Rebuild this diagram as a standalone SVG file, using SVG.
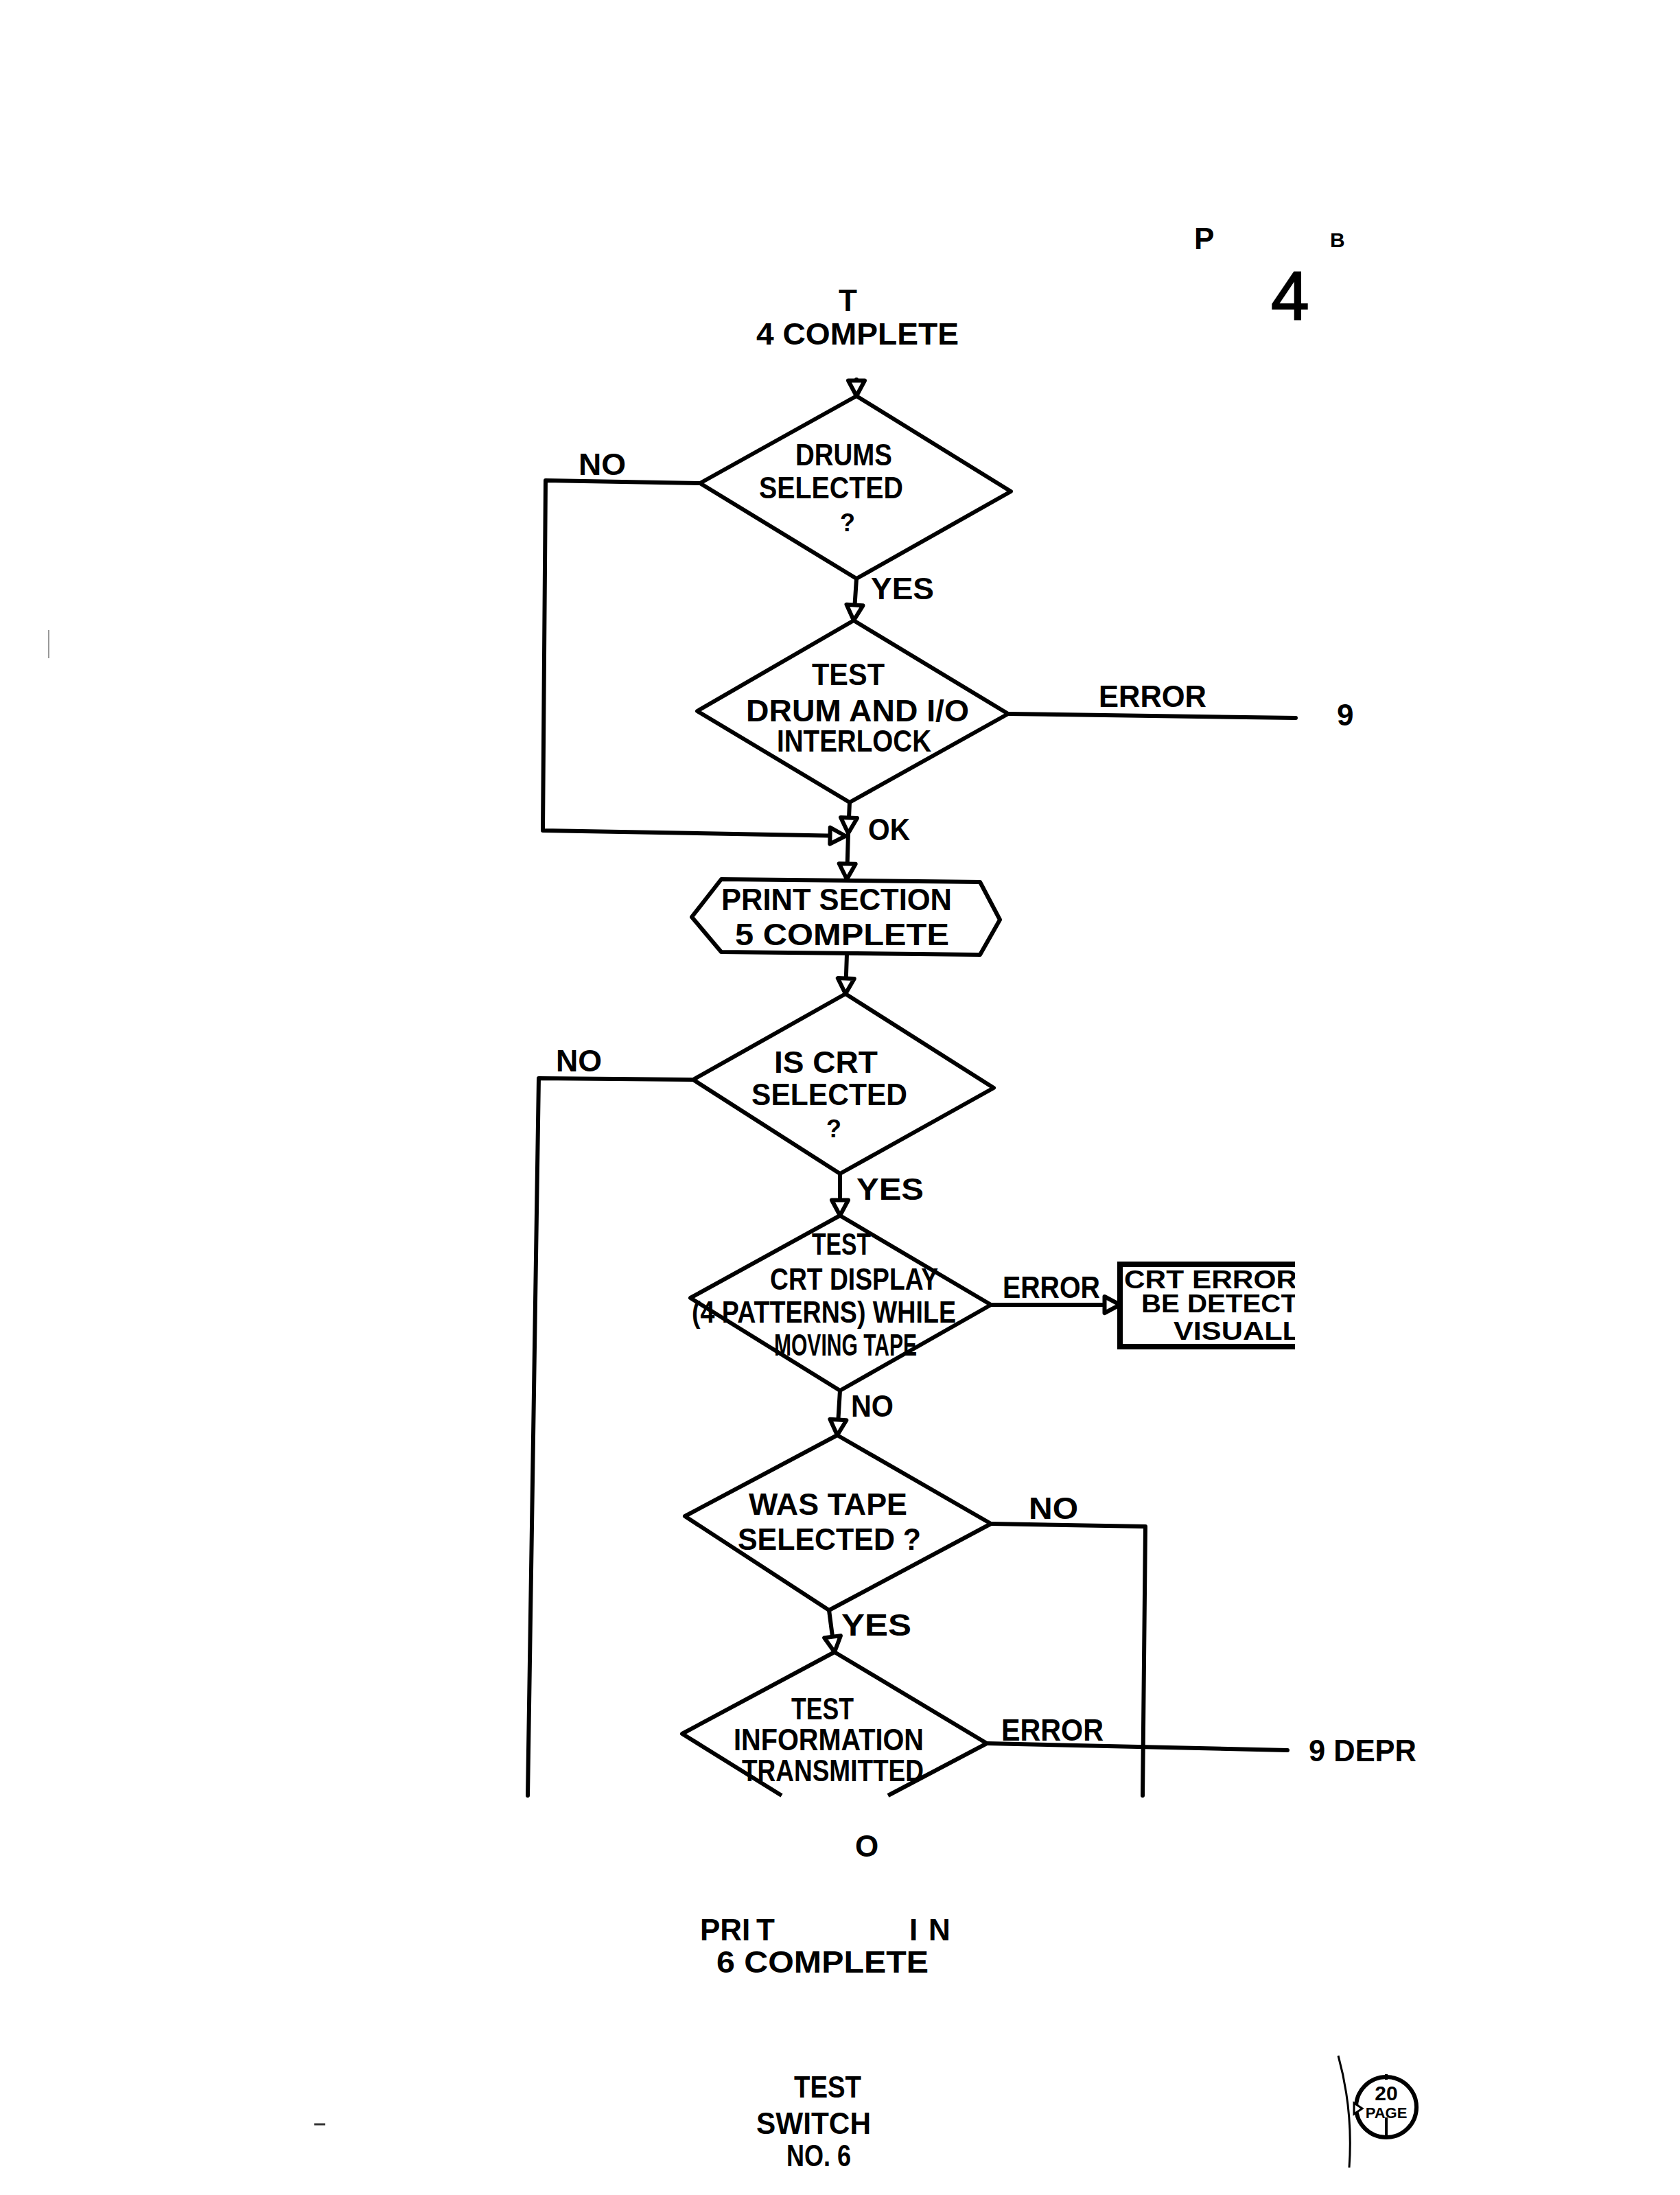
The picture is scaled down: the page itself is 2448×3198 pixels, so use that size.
<svg xmlns="http://www.w3.org/2000/svg" width="2448" height="3198" viewBox="0 0 2448 3198">
<style>
.sh{fill:none;stroke:#000;stroke-width:6;stroke-linejoin:round}
.ln{fill:none;stroke:#000;stroke-width:6;stroke-linejoin:round;stroke-linecap:round}
.t{font-family:"Liberation Sans",Arial,sans-serif;font-weight:bold;font-size:44px;fill:#000}
.s{font-size:36px}
.q{font-size:36px}
.hw{font-family:"Liberation Sans",Arial,sans-serif;fill:#000}
</style>
<defs>
<marker id="ah" markerUnits="userSpaceOnUse" markerWidth="30" markerHeight="30" viewBox="-16 -10 20 20" refX="0" refY="0" orient="auto" overflow="visible">
<path d="M-15,-8 L0,0 L-15,8 Z" fill="#fff" stroke="#000" stroke-width="4" stroke-linejoin="round"/>
</marker>
<clipPath id="boxclip"><rect x="1630" y="1838" width="257" height="130"/></clipPath>
</defs>
<rect width="2448" height="3198" fill="#fff"/>

<g id="header">
<text class="t" x="1222" y="453">T</text>
<text class="t" x="1102" y="502" textLength="295" lengthAdjust="spacingAndGlyphs">4 COMPLETE</text>
<text class="t" x="1740" y="363">P</text>
<text class="t" x="1938" y="360" style="font-size:30px">B</text>
<text class="hw" x="1852" y="466" style="font-size:100px;stroke:#000;stroke-width:2">4</text>
</g>

<g id="connectors">
<path class="ln" d="M1248,553 L1248,577" marker-end="url(#ah)"/>
<path class="ln" d="M1020,704 L795,700 L791,1210 L1232,1218" marker-end="url(#ah)"/>
<path class="ln" d="M1248,843 L1244,904" marker-end="url(#ah)"/>
<path class="ln" d="M1469,1040 L1888,1046"/>
<path class="ln" d="M1238,1169 L1236,1214" marker-end="url(#ah)"/>
<path class="ln" d="M1236,1214 L1234,1281" marker-end="url(#ah)"/>
<path class="ln" d="M1234,1390 L1232,1448" marker-end="url(#ah)"/>
<path class="ln" d="M1010,1573 L785,1571 L769,2616"/>
<path class="ln" d="M1224,1710 L1224,1771" marker-end="url(#ah)"/>
<path class="ln" d="M1444,1901 L1632,1901" marker-end="url(#ah)"/>
<path class="ln" d="M1224,2026 L1220,2091" marker-end="url(#ah)"/>
<path class="ln" d="M1444,2220 L1669,2224 L1665,2616"/>
<path class="ln" d="M1208,2346 L1216,2407" marker-end="url(#ah)"/>
<path class="ln" d="M1438,2540 L1876,2550"/>
<text class="t" x="843" y="692" textLength="69" lengthAdjust="spacingAndGlyphs">NO</text>
<text class="t" x="1269" y="873" textLength="92" lengthAdjust="spacingAndGlyphs">YES</text>
<text class="t" x="1601" y="1030" textLength="157" lengthAdjust="spacingAndGlyphs">ERROR</text>
<text class="t" x="1265" y="1224" textLength="61" lengthAdjust="spacingAndGlyphs">OK</text>
<text class="t" x="810" y="1561" textLength="67" lengthAdjust="spacingAndGlyphs">NO</text>
<text class="t" x="1248" y="1748" textLength="98" lengthAdjust="spacingAndGlyphs">YES</text>
<text class="t" x="1461" y="1891" textLength="142" lengthAdjust="spacingAndGlyphs">ERROR</text>
<text class="t" x="1240" y="2064" textLength="62" lengthAdjust="spacingAndGlyphs">NO</text>
<text class="t" x="1499" y="2213" textLength="72" lengthAdjust="spacingAndGlyphs">NO</text>
<text class="t" x="1226" y="2383" textLength="102" lengthAdjust="spacingAndGlyphs">YES</text>
<text class="t" x="1459" y="2536" textLength="149" lengthAdjust="spacingAndGlyphs">ERROR</text>
</g>

<g id="drums-selected">
<polygon class="sh" points="1248,577 1473,716 1248,843 1020,704"/>
<text class="t" x="1159" y="678" textLength="141" lengthAdjust="spacingAndGlyphs">DRUMS</text>
<text class="t" x="1106" y="726" textLength="210" lengthAdjust="spacingAndGlyphs">SELECTED</text>
<text class="t q" x="1224" y="774">?</text>
</g>

<g id="test-drum-interlock">
<polygon class="sh" points="1244,904 1469,1040 1238,1169 1016,1036"/>
<text class="t" x="1183" y="998" textLength="106" lengthAdjust="spacingAndGlyphs">TEST</text>
<text class="t" x="1087" y="1051" textLength="325" lengthAdjust="spacingAndGlyphs">DRUM AND I/O</text>
<text class="t" x="1132" y="1095" textLength="225" lengthAdjust="spacingAndGlyphs">INTERLOCK</text>
</g>

<g id="exit-9">
<text class="t" x="1948" y="1057">9</text>
</g>

<g id="print-section-5">
<polygon class="sh" points="1008,1336 1051,1281 1428,1285 1457,1340 1428,1391 1051,1387"/>
<text class="t" x="1051" y="1326" textLength="336" lengthAdjust="spacingAndGlyphs">PRINT SECTION</text>
<text class="t" x="1071" y="1377" textLength="312" lengthAdjust="spacingAndGlyphs">5 COMPLETE</text>
</g>

<g id="is-crt-selected">
<polygon class="sh" points="1232,1448 1448,1585 1224,1710 1010,1573"/>
<text class="t" x="1128" y="1563" textLength="151" lengthAdjust="spacingAndGlyphs">IS CRT</text>
<text class="t" x="1095" y="1610" textLength="227" lengthAdjust="spacingAndGlyphs">SELECTED</text>
<text class="t q" x="1204" y="1657">?</text>
</g>

<g id="test-crt-display">
<polygon class="sh" points="1224,1771 1444,1901 1224,2026 1006,1891"/>
<text class="t" x="1183" y="1828" textLength="86" lengthAdjust="spacingAndGlyphs">TEST</text>
<text class="t" x="1122" y="1879" textLength="245" lengthAdjust="spacingAndGlyphs">CRT DISPLAY</text>
<text class="t" x="1008" y="1927" textLength="385" lengthAdjust="spacingAndGlyphs">(4 PATTERNS) WHILE</text>
<text class="t" x="1128" y="1975" textLength="208" lengthAdjust="spacingAndGlyphs">MOVING TAPE</text>
</g>

<g id="crt-error-box">
<path d="M1887,1842 L1632,1842 L1632,1962 L1887,1962" fill="none" stroke="#000" stroke-width="8"/>
<g clip-path="url(#boxclip)">
<text class="t s" x="1638" y="1877" textLength="252" lengthAdjust="spacingAndGlyphs">CRT ERROR</text>
<text class="t s" x="1663" y="1912" textLength="228" lengthAdjust="spacingAndGlyphs">BE DETECT</text>
<text class="t s" x="1710" y="1952" textLength="185" lengthAdjust="spacingAndGlyphs">VISUALL</text>
</g>
</g>

<g id="was-tape-selected">
<polygon class="sh" points="1220,2091 1444,2220 1208,2346 998,2209"/>
<text class="t" x="1091" y="2207" textLength="231" lengthAdjust="spacingAndGlyphs">WAS TAPE</text>
<text class="t" x="1075" y="2258" textLength="267" lengthAdjust="spacingAndGlyphs">SELECTED ?</text>
</g>

<g id="test-information-transmitted">
<path class="sh" d="M1139,2616 L994,2526 L1216,2407 L1438,2540 L1294,2616"/>
<text class="t" x="1153" y="2505" textLength="91" lengthAdjust="spacingAndGlyphs">TEST</text>
<text class="t" x="1069" y="2550" textLength="277" lengthAdjust="spacingAndGlyphs">INFORMATION</text>
<text class="t" x="1081" y="2595" textLength="265" lengthAdjust="spacingAndGlyphs">TRANSMITTED</text>
</g>

<g id="exit-9-depr">
<text class="t" x="1907" y="2566" textLength="157" lengthAdjust="spacingAndGlyphs">9 DEPR</text>
</g>

<g id="footer">
<text class="t" x="1246" y="2705">O</text>
<text class="t" y="2827"><tspan x="1020">PRI</tspan><tspan x="1102">T</tspan><tspan x="1325">I</tspan><tspan x="1353">N</tspan></text>
<text class="t" x="1044" y="2874" textLength="309" lengthAdjust="spacingAndGlyphs">6 COMPLETE</text>
<text class="t" x="1157" y="3056" textLength="98" lengthAdjust="spacingAndGlyphs">TEST</text>
<text class="t" x="1102" y="3109" textLength="167" lengthAdjust="spacingAndGlyphs">SWITCH</text>
<text class="t" x="1146" y="3156" textLength="94" lengthAdjust="spacingAndGlyphs">NO. 6</text>
</g>

<g id="page-stamp">
<circle cx="2020" cy="3070" r="44" fill="none" stroke="#000" stroke-width="6"/>
<path d="M1985,3072 L1973,3064 L1973,3080 Z" fill="#fff" stroke="#000" stroke-width="3"/>
<line x1="2020" y1="3085" x2="2020" y2="3114" stroke="#000" stroke-width="4"/>
<line x1="2020" y1="3022" x2="2020" y2="3030" stroke="#000" stroke-width="4"/>
<text class="t" x="2020" y="3060" text-anchor="middle" style="font-size:30px">20</text>
<text class="t" x="2020" y="3086" text-anchor="middle" style="font-size:22px">PAGE</text>
<path d="M1950,2995 Q1972,3075 1966,3158" fill="none" stroke="#000" stroke-width="3"/>
</g>

<g id="marks">
<line x1="71" y1="918" x2="71" y2="959" stroke="#999" stroke-width="2"/>
<line x1="458" y1="3095" x2="474" y2="3095" stroke="#333" stroke-width="3"/>
</g>
</svg>
